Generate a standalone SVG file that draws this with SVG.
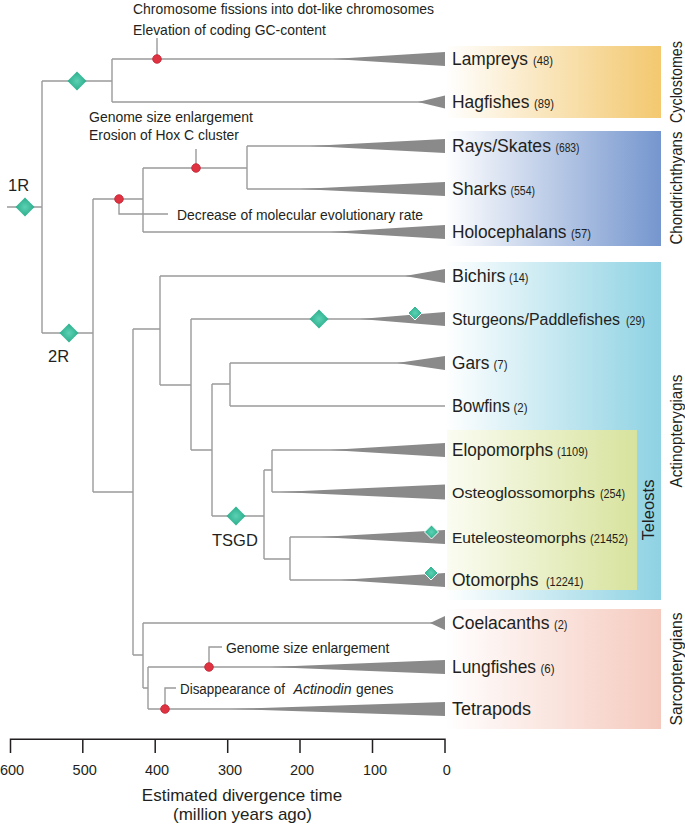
<svg xmlns="http://www.w3.org/2000/svg" xmlns:xlink="http://www.w3.org/1999/xlink" width="685" height="825" viewBox="0 0 685 825">
<style>
.br{fill:none;stroke:#9b9b9b;stroke-width:1.4}
.tri{fill:#8a8a8a}
.lb{font-family:"Liberation Sans",Arial,sans-serif;font-size:17.5px;fill:#231f20}
.lbs{font-family:"Liberation Sans",Arial,sans-serif;font-size:15.8px;fill:#231f20}
.n{font-family:"Liberation Sans",Arial,sans-serif;font-size:12.5px;fill:#231f20}
.an{font-family:"Liberation Sans",Arial,sans-serif;font-size:15px;fill:#231f20}
.gl{font-family:"Liberation Sans",Arial,sans-serif;font-size:16.5px;fill:#231f20;text-anchor:middle}
.ax{font-family:"Liberation Sans",Arial,sans-serif;font-size:14.5px;fill:#231f20;text-anchor:middle}
.axt{font-family:"Liberation Sans",Arial,sans-serif;font-size:17px;fill:#231f20;text-anchor:middle}
.dot{fill:#e03342;stroke:#c1202f;stroke-width:0.8}
.dia{fill:url(#gd)}
.dias{fill:url(#gd);stroke:#ffffff;stroke-width:1}
</style>
<defs>
<linearGradient id="gC" x1="0" x2="1" y1="0" y2="0"><stop offset="0" stop-color="#ffffff"/><stop offset="1" stop-color="#f3c86f"/></linearGradient>
<linearGradient id="gH" x1="0" x2="1" y1="0" y2="0"><stop offset="0" stop-color="#ffffff"/><stop offset="1" stop-color="#7596ce"/></linearGradient>
<linearGradient id="gA" x1="0" x2="1" y1="0" y2="0"><stop offset="0" stop-color="#ffffff"/><stop offset="1" stop-color="#8ed2e3"/></linearGradient>
<linearGradient id="gT" x1="0" x2="1" y1="0" y2="0"><stop offset="0" stop-color="#fbfcf2"/><stop offset="1" stop-color="#d7e39d"/></linearGradient>
<linearGradient id="gS" x1="0" x2="1" y1="0" y2="0"><stop offset="0" stop-color="#ffffff"/><stop offset="1" stop-color="#f5cabe"/></linearGradient>
<radialGradient id="gd"><stop offset="0" stop-color="#5cd1b3"/><stop offset="1" stop-color="#2aae8c"/></radialGradient>
<path id="dL" d="M0,-9.5 L9.5,0 L0,9.5 L-9.5,0Z"/>
<path id="dS" d="M0,-7 L7,0 L0,7 L-7,0Z"/>
</defs>

<g id="boxes">
<rect x="445" y="46" width="216" height="72" fill="url(#gC)"/>
<rect x="445" y="131" width="216" height="115" fill="url(#gH)"/>
<rect x="445" y="262" width="216" height="338" fill="url(#gA)"/>
<rect x="447" y="430" width="190" height="160" fill="url(#gT)"/>
<rect x="445" y="609" width="216" height="120" fill="url(#gS)"/>
</g>

<g id="group-labels">
<text class="gl" transform="translate(682,82) rotate(-90)" textLength="82" lengthAdjust="spacingAndGlyphs">Cyclostomes</text>
<text class="gl" transform="translate(682,188) rotate(-90)" textLength="113" lengthAdjust="spacingAndGlyphs">Chondrichthyans</text>
<text class="gl" transform="translate(682,431) rotate(-90)" textLength="113" lengthAdjust="spacingAndGlyphs">Actinopterygians</text>
<text class="gl" transform="translate(654,510) rotate(-90)" textLength="61" lengthAdjust="spacingAndGlyphs">Teleosts</text>
<text class="gl" transform="translate(682,669) rotate(-90)" textLength="113" lengthAdjust="spacingAndGlyphs">Sarcopterygians</text>
</g>

<g id="connectors" class="br">
<path d="M7,207H42M42,81V333"/>
<path d="M42,81H112M112,59V102M112,59H445M112,102H445"/>
<path d="M42,333H93M93,199V492"/>
<path d="M93,199H143M143,168V232M143,168H247M247,146V189M247,146H445M247,189H445M143,232H445"/>
<path d="M93,492H133M133,329V655"/>
<path d="M133,329H160M160,276V385M160,276H445M160,385H191M191,319V450M191,319H445M191,450H212M212,384V516M212,384H230M230,363V406M230,363H445M230,406H445"/>
<path d="M212,516H264M264,470V559M264,470H272M272,450V492M272,450H445M272,492H445M264,559H290M290,537V580M290,537H445M290,580H445"/>
<path d="M133,655H143M143,623V688M143,623H445M143,688H148M148,667V709M148,667H445M148,709H445"/>
<path d="M157,59V38M196,168V149M119,199V214H168M209,667V647H222M165,709V688H176"/>
</g>

<g id="lampreys"><polygon class="tri" points="333,59 445,52 445,66"/><text class="lb" x="452" y="65" textLength="76" lengthAdjust="spacingAndGlyphs">Lampreys</text><text class="n" x="533" y="65" textLength="20" lengthAdjust="spacingAndGlyphs">(48)</text></g>
<g id="hagfishes"><polygon class="tri" points="418,102 445,95.5 445,108.5"/><text class="lb" x="452" y="108" textLength="77.5" lengthAdjust="spacingAndGlyphs">Hagfishes</text><text class="n" x="534" y="108" textLength="20" lengthAdjust="spacingAndGlyphs">(89)</text></g>
<g id="rays"><polygon class="tri" points="310,146 445,139 445,153"/><text class="lb" x="452" y="152" textLength="99" lengthAdjust="spacingAndGlyphs">Rays/Skates</text><text class="n" x="555.5" y="152" textLength="24" lengthAdjust="spacingAndGlyphs">(683)</text></g>
<g id="sharks"><polygon class="tri" points="300,189 445,182 445,196"/><text class="lb" x="452" y="195" textLength="54.5" lengthAdjust="spacingAndGlyphs">Sharks</text><text class="n" x="510.5" y="195" textLength="24.5" lengthAdjust="spacingAndGlyphs">(554)</text></g>
<g id="holocephalans"><polygon class="tri" points="330,232 445,225 445,239"/><text class="lb" x="452" y="238" textLength="114.5" lengthAdjust="spacingAndGlyphs">Holocephalans</text><text class="n" x="571" y="238" textLength="20" lengthAdjust="spacingAndGlyphs">(57)</text></g>
<g id="bichirs"><polygon class="tri" points="405,276 445,269 445,283"/><text class="lb" x="452" y="282" textLength="53.5" lengthAdjust="spacingAndGlyphs">Bichirs</text><text class="n" x="509" y="282" textLength="19.5" lengthAdjust="spacingAndGlyphs">(14)</text></g>
<g id="sturgeons"><polygon class="tri" points="360,319 445,312 445,326"/><text class="lbs" x="452" y="325" textLength="168" lengthAdjust="spacingAndGlyphs">Sturgeons/Paddlefishes</text><text class="n" x="626" y="325" textLength="19" lengthAdjust="spacingAndGlyphs">(29)</text></g>
<g id="gars"><polygon class="tri" points="397,363 445,356 445,370"/><text class="lb" x="452" y="369" textLength="37.5" lengthAdjust="spacingAndGlyphs">Gars</text><text class="n" x="493.5" y="369" textLength="14" lengthAdjust="spacingAndGlyphs">(7)</text></g>
<g id="bowfins"><text class="lb" x="452" y="412" textLength="58" lengthAdjust="spacingAndGlyphs">Bowfins</text><text class="n" x="513.5" y="412" textLength="14" lengthAdjust="spacingAndGlyphs">(2)</text></g>
<g id="elopomorphs"><polygon class="tri" points="330,450 445,443 445,457"/><text class="lb" x="452" y="456" textLength="101" lengthAdjust="spacingAndGlyphs">Elopomorphs</text><text class="n" x="557" y="456" textLength="31" lengthAdjust="spacingAndGlyphs">(1109)</text></g>
<g id="osteoglossomorphs"><polygon class="tri" points="280,492 445,484.5 445,499.5"/><text class="lbs" x="452" y="498" textLength="143" lengthAdjust="spacingAndGlyphs" style="font-size:15.5px">Osteoglossomorphs</text><text class="n" x="600" y="498" textLength="25" lengthAdjust="spacingAndGlyphs">(254)</text></g>
<g id="euteleosteomorphs"><polygon class="tri" points="320,537 445,530 445,544"/><text class="lbs" x="452" y="543" textLength="134" lengthAdjust="spacingAndGlyphs" style="font-size:15.5px">Euteleosteomorphs</text><text class="n" x="590" y="543" textLength="38" lengthAdjust="spacingAndGlyphs">(21452)</text></g>
<g id="otomorphs"><polygon class="tri" points="340,580 445,573 445,587"/><text class="lb" x="452" y="586" textLength="86.5" lengthAdjust="spacingAndGlyphs">Otomorphs</text><text class="n" x="546" y="586" textLength="37.5" lengthAdjust="spacingAndGlyphs">(12241)</text></g>
<g id="coelacanths"><polygon class="tri" points="430,623 445,616 445,630"/><text class="lb" x="452" y="629" textLength="97.5" lengthAdjust="spacingAndGlyphs">Coelacanths</text><text class="n" x="554" y="629" textLength="13.5" lengthAdjust="spacingAndGlyphs">(2)</text></g>
<g id="lungfishes"><polygon class="tri" points="270,667 445,660 445,674"/><text class="lb" x="452" y="673" textLength="84" lengthAdjust="spacingAndGlyphs">Lungfishes</text><text class="n" x="540.5" y="673" textLength="14" lengthAdjust="spacingAndGlyphs">(6)</text></g>
<g id="tetrapods"><polygon class="tri" points="230,709 445,702 445,716"/><text class="lb" x="452" y="715" textLength="79" lengthAdjust="spacingAndGlyphs">Tetrapods</text></g>

<g id="wgd-1R"><use href="#dL" class="dia" x="25" y="207"/><text class="lb" x="8" y="191" style="font-size:16.5px">1R</text></g>
<g id="wgd-2R"><use href="#dL" class="dia" x="69" y="333"/><text class="lb" x="48" y="362" style="font-size:16.5px">2R</text></g>
<g id="wgd-cyclostomes"><use href="#dL" class="dia" x="77" y="81"/></g>
<g id="wgd-sturgeons"><use href="#dL" class="dia" x="319" y="319"/><use href="#dS" class="dias" x="415" y="313"/></g>
<g id="wgd-TSGD"><use href="#dL" class="dia" x="236" y="516"/><text class="lb" x="212" y="546" style="font-size:16.5px">TSGD</text></g>
<g id="wgd-salmonid"><use href="#dS" class="dias" x="431.5" y="532"/></g>
<g id="wgd-carp"><use href="#dS" class="dias" x="431" y="573"/></g>

<g id="ev-cyclostomes"><circle class="dot" cx="157" cy="59" r="4.3"/><text class="an" x="133" y="13.5" textLength="301" lengthAdjust="spacingAndGlyphs">Chromosome fissions into dot-like chromosomes</text><text class="an" x="133" y="35" textLength="193" lengthAdjust="spacingAndGlyphs">Elevation of coding GC-content</text></g>
<g id="ev-elasmo"><circle class="dot" cx="196" cy="168" r="4.3"/><text class="an" x="89" y="121.5" textLength="164" lengthAdjust="spacingAndGlyphs">Genome size enlargement</text><text class="an" x="89" y="140" textLength="150" lengthAdjust="spacingAndGlyphs">Erosion of Hox C cluster</text></g>
<g id="ev-chondr"><circle class="dot" cx="119" cy="199" r="4.3"/><text class="an" x="177" y="220" textLength="246" lengthAdjust="spacingAndGlyphs">Decrease of molecular evolutionary rate</text></g>
<g id="ev-lungfish"><circle class="dot" cx="209" cy="667" r="4.3"/><text class="an" x="226" y="653" textLength="163.5" lengthAdjust="spacingAndGlyphs">Genome size enlargement</text></g>
<g id="ev-tetrapod"><circle class="dot" cx="165" cy="709" r="4.3"/><text class="an" x="180" y="694" style="font-size:14px" textLength="105" lengthAdjust="spacingAndGlyphs">Disappearance of</text><text class="an" x="293.5" y="694" style="font-size:14px;font-style:italic" textLength="58" lengthAdjust="spacingAndGlyphs">Actinodin</text><text class="an" x="356" y="694" style="font-size:14px" textLength="37.5" lengthAdjust="spacingAndGlyphs">genes</text></g>

<g id="axis">
<path d="M10.5,753V739.3H445V753M82.8,739.3V753M155.2,739.3V753M227.7,739.3V753M300,739.3V753M372.5,739.3V753" fill="none" stroke="#231f20" stroke-width="1.5"/>
<text class="ax" x="12" y="775">600</text>
<text class="ax" x="84.7" y="775">500</text>
<text class="ax" x="157" y="775">400</text>
<text class="ax" x="230" y="775">300</text>
<text class="ax" x="302" y="775">200</text>
<text class="ax" x="375" y="775">100</text>
<text class="ax" x="446.7" y="775">0</text>
<text class="axt" x="242" y="801">Estimated divergence time</text>
<text class="axt" x="242.5" y="820">(million years ago)</text>
</g>
</svg>
